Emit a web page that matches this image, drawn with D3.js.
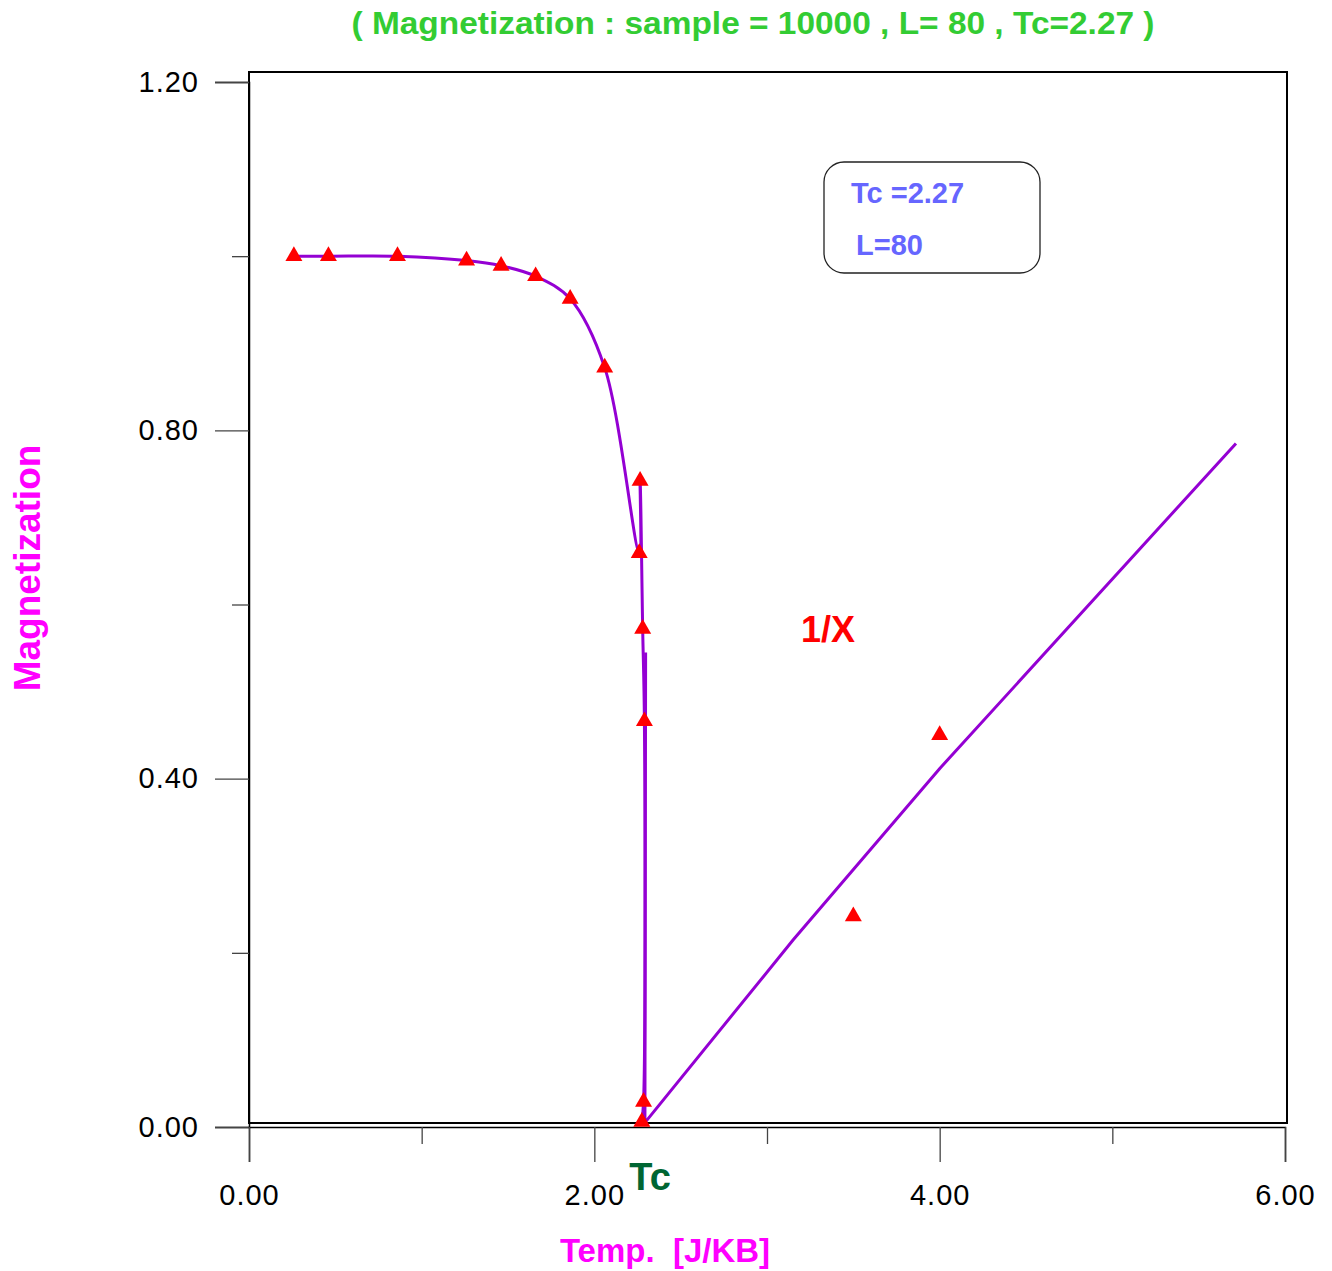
<!DOCTYPE html>
<html>
<head>
<meta charset="utf-8">
<script src="https://cdn.jsdelivr.net/npm/d3@7"></script>
<style>
  body { margin: 0; background: #fff; }
  svg { display: block; }
</style>
</head>
<body>
<div id="chart"></div>
<script>
// magnetization points (temp / value), in the order they were plotted
const magTemp = [0.26, 0.46, 0.86, 1.26, 1.46, 1.66, 1.86, 2.06, 2.26, 2.265, 2.28, 2.29, 2.285, 2.275];
const magValue = [1.000, 1.000, 1.000, 0.995, 0.989, 0.977, 0.951, 0.872, 0.659, 0.742, 0.572, 0.466, 0.029, 0.006];

// 1/X points above Tc
const invTemp = [3.50, 4.00];
const invValue = [0.242, 0.450];

// 1/X fitted line
const fitTemp = [2.297, 2.293, 3.152, 4.002, 5.716];
const fitValue = [0.545, 0.005, 0.215, 0.412, 0.785];

const xMajor = [0, 2, 4, 6];
const xMinor = [1, 3, 5];
const yMajor = [0, 0.4, 0.8, 1.2];
const yMinor = [0.2, 0.6, 1.0];

const titleText = '( Magnetization : sample = 10000 , L= 80 , Tc=2.27 )';
const legendLines = ['Tc =2.27', 'L=80'];

const width = 1332, height = 1271;
const font = '"Liberation Sans", Arial, sans-serif';

const svg = d3.select('#chart').append('svg')
  .attr('width', width)
  .attr('height', height);

const x = d3.scaleLinear().domain([0, 6]).range([249, 1285]);
const y = d3.scaleLinear().domain([0, 1.2]).range([1127, 82]);

// frame
svg.append('rect')
  .attr('x', 249).attr('y', 72)
  .attr('width', 1038).attr('height', 1051)
  .attr('fill', 'none')
  .attr('stroke', '#000')
  .attr('stroke-width', 2);

// y axis
svg.append('g')
  .attr('transform', 'translate(249,0)')
  .call(d3.axisLeft(y).tickValues(yMajor).tickSize(34).tickPadding(16).tickFormat(d3.format('.2f')));
svg.append('g')
  .attr('transform', 'translate(249,0)')
  .call(d3.axisLeft(y).tickValues(yMinor).tickSize(17).tickFormat(''))
  .select('.domain').remove();

// x axis
svg.append('g')
  .attr('transform', 'translate(0,1127)')
  .call(d3.axisBottom(x).tickValues(xMajor).tickSize(35).tickPadding(22).tickFormat(d3.format('.2f')));
svg.append('g')
  .attr('transform', 'translate(0,1127)')
  .call(d3.axisBottom(x).tickValues(xMinor).tickSize(17).tickFormat(''))
  .select('.domain').remove();

svg.selectAll('.domain').attr('stroke', '#000').attr('stroke-width', 1.5);
svg.selectAll('.tick line').attr('stroke', '#444').attr('stroke-width', 1.3);
svg.selectAll('.tick text')
  .attr('fill', '#000')
  .style('font-family', font)
  .style('font-size', '29px')
  .style('letter-spacing', '1px');

// curves
const magData = magTemp.map((t, i) => ({ t: t, v: magValue[i] }));
const fitData = fitTemp.map((t, i) => ({ t: t, v: fitValue[i] }));
const invData = invTemp.map((t, i) => ({ t: t, v: invValue[i] }));

const smooth = d3.line()
  .x(d => x(d.t))
  .y(d => y(d.v))
  .curve(d3.curveCatmullRom.alpha(0.5));

const straight = d3.line()
  .x(d => x(d.t))
  .y(d => y(d.v));

svg.append('path')
  .datum(fitData)
  .attr('d', straight)
  .attr('fill', 'none')
  .attr('stroke', '#9400D3')
  .attr('stroke-width', 3)
  .attr('stroke-linejoin', 'round');

svg.append('path')
  .datum(magData)
  .attr('d', smooth)
  .attr('fill', 'none')
  .attr('stroke', '#9400D3')
  .attr('stroke-width', 3);

// triangle markers
const tri = d3.symbol().type(d3.symbolTriangle).size(125);
svg.selectAll('.mark')
  .data(magData.concat(invData))
  .enter()
  .append('path')
  .attr('class', 'mark')
  .attr('d', tri)
  .attr('transform', d => 'translate(' + x(d.t) + ',' + y(d.v) + ')')
  .attr('fill', '#FF0000');

// title
svg.append('text')
  .attr('x', 753).attr('y', 34)
  .attr('text-anchor', 'middle')
  .attr('textLength', 803)
  .attr('lengthAdjust', 'spacingAndGlyphs')
  .style('font-family', font)
  .style('font-weight', 'bold')
  .style('font-size', '32px')
  .attr('fill', '#33CC33')
  .text(titleText);

// axis titles
svg.append('text')
  .attr('transform', 'translate(40,568) rotate(-90)')
  .attr('text-anchor', 'middle')
  .style('font-family', font)
  .style('font-weight', 'bold')
  .style('font-size', '37px')
  .attr('fill', '#FF00FF')
  .text('Magnetization');

svg.append('text')
  .attr('x', 665).attr('y', 1262)
  .attr('text-anchor', 'middle')
  .style('font-family', font)
  .style('font-weight', 'bold')
  .style('font-size', '33px')
  .style('white-space', 'pre')
  .attr('fill', '#FF00FF')
  .text('Temp.  [J/KB]');

// annotations
svg.append('text')
  .attr('x', 650).attr('y', 1190)
  .attr('text-anchor', 'middle')
  .style('font-family', font)
  .style('font-weight', 'bold')
  .style('font-size', '38px')
  .attr('fill', '#006633')
  .text('Tc');

svg.append('text')
  .attr('x', 828).attr('y', 642)
  .attr('text-anchor', 'middle')
  .style('font-family', font)
  .style('font-weight', 'bold')
  .style('font-size', '36px')
  .attr('fill', '#FF0000')
  .text('1/X');

// legend box
svg.append('rect')
  .attr('x', 824).attr('y', 162)
  .attr('width', 216).attr('height', 111)
  .attr('rx', 20).attr('ry', 20)
  .attr('fill', 'none')
  .attr('stroke', '#222')
  .attr('stroke-width', 1.3);

svg.selectAll('.legend')
  .data(legendLines)
  .enter()
  .append('text')
  .attr('class', 'legend')
  .attr('x', (d, i) => i === 0 ? 851 : 856)
  .attr('y', (d, i) => 203 + i * 52)
  .style('font-family', font)
  .style('font-weight', 'bold')
  .style('font-size', '29px')
  .attr('fill', '#6666FF')
  .text(d => d);
</script>
</body>
</html>
